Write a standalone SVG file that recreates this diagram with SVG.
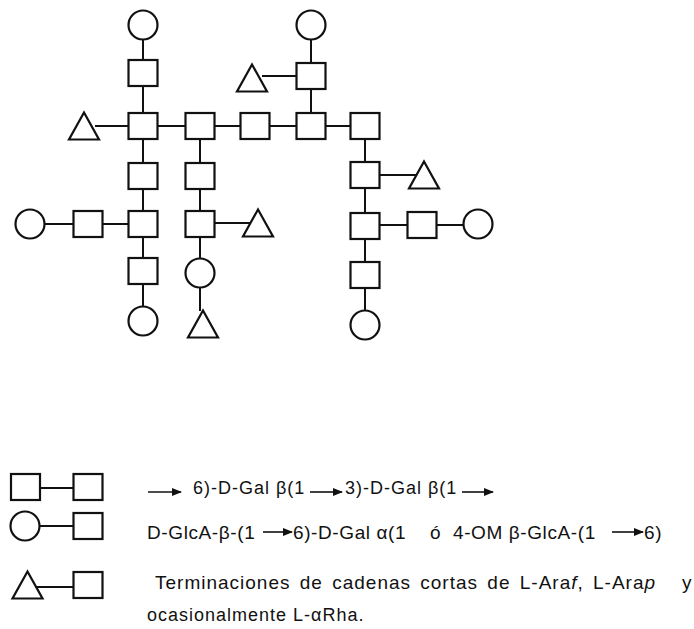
<svg xmlns="http://www.w3.org/2000/svg" width="694" height="629" viewBox="0 0 694 629">
<style>
.s{fill:#fff;stroke:#111;stroke-width:2.2}
.e{stroke:#111;stroke-width:2;fill:none}
.t{font-family:"Liberation Sans",Arial,Helvetica,sans-serif;font-size:19px;fill:#111;letter-spacing:1px}
.t1{font-size:18px}
.t2{letter-spacing:0.6px}
.a{stroke:#111;stroke-width:1.6;fill:none}
</style>
<defs>
<marker id="ah" markerUnits="userSpaceOnUse" markerWidth="10" markerHeight="8" refX="9" refY="4" orient="auto">
<path d="M0,0 L10,4 L0,8 Z" fill="#111"/>
</marker>
<rect id="sq" x="-14.5" y="-13" width="29" height="26"/>
<circle id="ci" r="14.5"/>
<path id="tr" d="M0,-13.5 L15,13.5 L-15,13.5 Z"/>
</defs>
<rect width="694" height="629" fill="#fff"/>
<g id="connectors">
<path class="e" d="M143,39V60 M143,86V113 M95,126H129 M158,126H185 M214,126H241 M270,126H296 M325,126H350 M311,39V63 M311,89V113 M262,76H296 M143,139V163 M143,189V211 M143,237V258 M143,284V307 M200,139V163 M200,189V211 M200,237V259 M200,287V311 M214,223H250 M45,224H73 M103,224H129 M365,139V163 M379,175H416 M365,188V213 M379,225H407 M437,225H463 M365,239V262 M365,288V311"/>
<path class="e" d="M38,488H74 M40,526H74 M36,587H74"/>
</g>
<g id="A0"><use href="#ci" class="s" x="143" y="25"/></g>
<g id="A1"><use href="#sq" class="s" x="143" y="73"/></g>
<g id="A2"><use href="#sq" class="s" x="143" y="126"/></g>
<g id="A3"><use href="#sq" class="s" x="143" y="176"/></g>
<g id="A4"><use href="#sq" class="s" x="143" y="224"/></g>
<g id="A5"><use href="#sq" class="s" x="143" y="271"/></g>
<g id="A6"><use href="#ci" class="s" x="143" y="321"/></g>
<g id="TL"><use href="#tr" class="s" x="84" y="126"/></g>
<g id="B2"><use href="#sq" class="s" x="200" y="126"/></g>
<g id="B3"><use href="#sq" class="s" x="200" y="176"/></g>
<g id="B4"><use href="#sq" class="s" x="200" y="224"/></g>
<g id="B5"><use href="#ci" class="s" x="200" y="273"/></g>
<g id="B6"><use href="#tr" class="s" x="203" y="324"/></g>
<g id="BT"><use href="#tr" class="s" x="258" y="223"/></g>
<g id="L1"><use href="#ci" class="s" x="30" y="224"/></g>
<g id="L2"><use href="#sq" class="s" x="88" y="224"/></g>
<g id="C2"><use href="#sq" class="s" x="255" y="126"/></g>
<g id="D0"><use href="#ci" class="s" x="311" y="25"/></g>
<g id="D1"><use href="#sq" class="s" x="311" y="76"/></g>
<g id="D2"><use href="#sq" class="s" x="311" y="126"/></g>
<g id="DT"><use href="#tr" class="s" x="252" y="78"/></g>
<g id="E2"><use href="#sq" class="s" x="365" y="126"/></g>
<g id="E3"><use href="#sq" class="s" x="365" y="175"/></g>
<g id="ET"><use href="#tr" class="s" x="424" y="175"/></g>
<g id="E4"><use href="#sq" class="s" x="365" y="226"/></g>
<g id="R1"><use href="#sq" class="s" x="422" y="225"/></g>
<g id="R2"><use href="#ci" class="s" x="478" y="224"/></g>
<g id="E5"><use href="#sq" class="s" x="365" y="275"/></g>
<g id="E6"><use href="#ci" class="s" x="365" y="325"/></g>
<g id="legend1"><use href="#sq" class="s" x="25.5" y="487"/><use href="#sq" class="s" x="88" y="487"/></g>
<g id="legend2"><use href="#ci" class="s" x="25" y="526"/><use href="#sq" class="s" x="88" y="526"/></g>
<g id="legend3"><use href="#tr" class="s" x="27.5" y="585"/><use href="#sq" class="s" x="88" y="585"/></g>
<g id="legend-text">
<path class="a" marker-end="url(#ah)" d="M148,492H181"/>
<path class="a" marker-end="url(#ah)" d="M310,492H342"/>
<path class="a" marker-end="url(#ah)" d="M462,492H493"/>
<path class="a" marker-end="url(#ah)" d="M263,532H292"/>
<path class="a" marker-end="url(#ah)" d="M612,532H643"/>
<text class="t t1" x="193" y="494">6)-D-Gal β(1</text>
<text class="t t1" x="345" y="494">3)-D-Gal β(1</text>
<text class="t t2" x="147" y="539">D-GlcA-β-(1</text>
<text class="t t2" x="293" y="539">6)-D-Gal α(1</text>
<text class="t t2" x="430" y="539">ó</text>
<text class="t t2" x="453" y="539">4-OM β-GlcA-(1</text>
<text class="t t2" x="644" y="539">6)</text>
<text class="t" x="155" y="589" style="word-spacing:3px">Terminaciones de cadenas cortas de L-Ara<tspan font-style="italic">f</tspan>, L-Ara<tspan font-style="italic">p</tspan></text>
<text class="t" x="682" y="589">y</text>
<text class="t t1" x="147" y="621">ocasionalmente L-αRha.</text>
</g>
</svg>
